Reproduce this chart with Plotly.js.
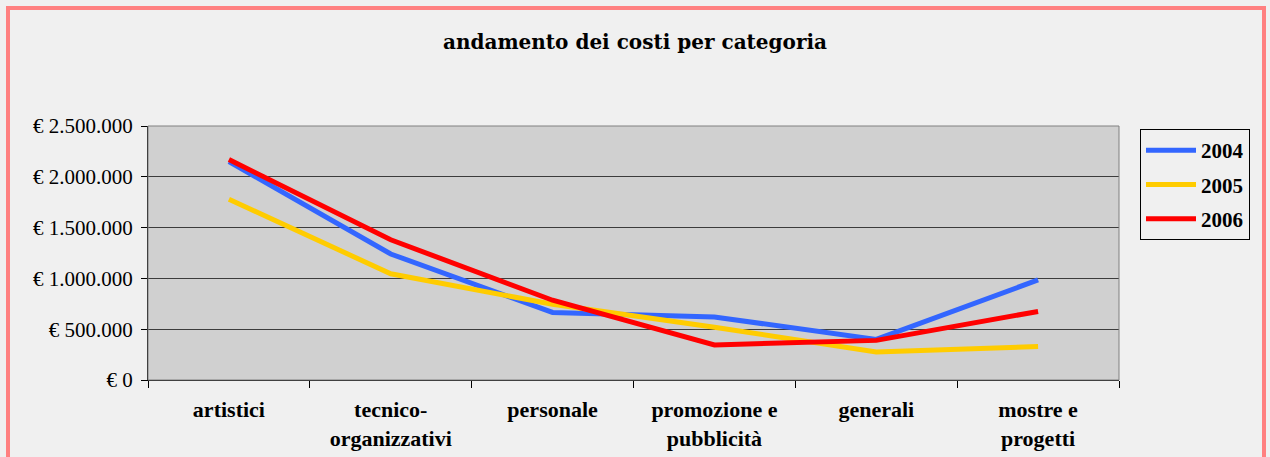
<!DOCTYPE html>
<html>
<head>
<meta charset="utf-8">
<script src="https://cdn.plot.ly/plotly-3.0.1.min.js"></script>
<style>
  html, body { margin: 0; padding: 0; background: #ffffff; }
  #chart { width: 1270px; height: 457px; }
</style>
</head>
<body>
<div id="chart"></div>
<script>
// Categories and yearly cost values (euro)
const categories = ['artistici', 'tecnico-<br>organizzativi', 'personale',
                    'promozione e<br>pubblicità', 'generali', 'mostre e<br>progetti'];
const years = ['2004', '2005', '2006'];
const costs2004 = [2150000, 1240000, 665000, 620000, 400000, 985000];
const costs2005 = [1780000, 1045000, 745000, 520000, 275000, 330000];
const costs2006 = [2170000, 1380000, 785000, 345000, 390000, 675000];
const yTicks = [0, 500000, 1000000, 1500000, 2000000, 2500000];

const seriesColors = ['#3366ff', '#ffcc00', '#ff0000'];
const seriesValues = [costs2004, costs2005, costs2006];

// euro label with dots as thousands separator
function euro(v) {
    return '€ ' + String(v).replace(/\B(?=(\d{3})+(?!\d))/g, '.');
}

const traces = years.map(function (year, i) {
    return {
        x: categories,
        y: seriesValues[i],
        type: 'scatter',
        mode: 'lines',
        name: year,
        legendgroup: year,
        line: { color: seriesColors[i], width: 5 }
    };
});

// plot area in pixels: x 148..1119, y 126..380
const plotW = 971, plotH = 254, left = 148, bottom = 380;
function px(x) { return (x - left) / plotW; }
function py(y) { return (bottom - y) / plotH; }

const layout = {
    width: 1270,
    height: 457,
    margin: { l: 148, r: 151, t: 126, b: 77 },
    paper_bgcolor: '#f0f0f0',
    plot_bgcolor: '#d0d0d0',
    font: { family: '"Liberation Serif", "Times New Roman", serif', color: '#000000' },
    title: {
        text: '<b>andamento dei costi per categoria</b>',
        font: { family: '"DejaVu Serif", serif', size: 20, color: '#000000' },
        x: 0.5, xanchor: 'center',
        y: 1 - 42 / 457, yanchor: 'middle'
    },
    xaxis: {
        type: 'category',
        range: [-0.5, 5.5],
        showgrid: false,
        showline: true,
        linecolor: '#000000',
        linewidth: 1,
        ticks: 'outside',
        tickson: 'boundaries',
        ticklen: 7,
        tickcolor: '#000000',
        ticklabelstandoff: 10,
        tickfont: { size: 22, weight: 'bold' },
        zeroline: false
    },
    yaxis: {
        range: [0, 2500000],
        tickmode: 'array',
        tickvals: yTicks,
        ticktext: yTicks.map(euro),
        showgrid: true,
        gridcolor: '#3c3c3c',
        gridwidth: 1,
        showline: true,
        linecolor: '#000000',
        linewidth: 1,
        ticks: 'outside',
        ticklen: 6,
        tickcolor: '#000000',
        ticklabelstandoff: 4,
        tickfont: { size: 21 },
        zeroline: false
    },
    showlegend: true,
    legend: {
        x: px(1140), xanchor: 'left',
        y: py(129), yanchor: 'top',
        bgcolor: '#f0f0f0',
        bordercolor: '#000000',
        borderwidth: 1,
        traceorder: 'grouped',
        tracegroupgap: 4,
        itemwidth: 50,
        font: { size: 21, weight: 'bold' }
    },
    shapes: [
        // gray frame on top and right of plot area
        {
            type: 'rect', xref: 'paper', yref: 'paper',
            x0: 0, x1: 1, y0: 0, y1: 1,
            line: { color: '#808080', width: 1 }
        },
        // pink outer border
        {
            type: 'rect', xref: 'paper', yref: 'paper',
            x0: px(8), x1: px(1264), y0: py(475), y1: py(8),
            line: { color: '#ff8080', width: 4 }
        }
    ]
};

Plotly.newPlot('chart', traces, layout, { displayModeBar: false, staticPlot: true });
</script>
</body>
</html>
